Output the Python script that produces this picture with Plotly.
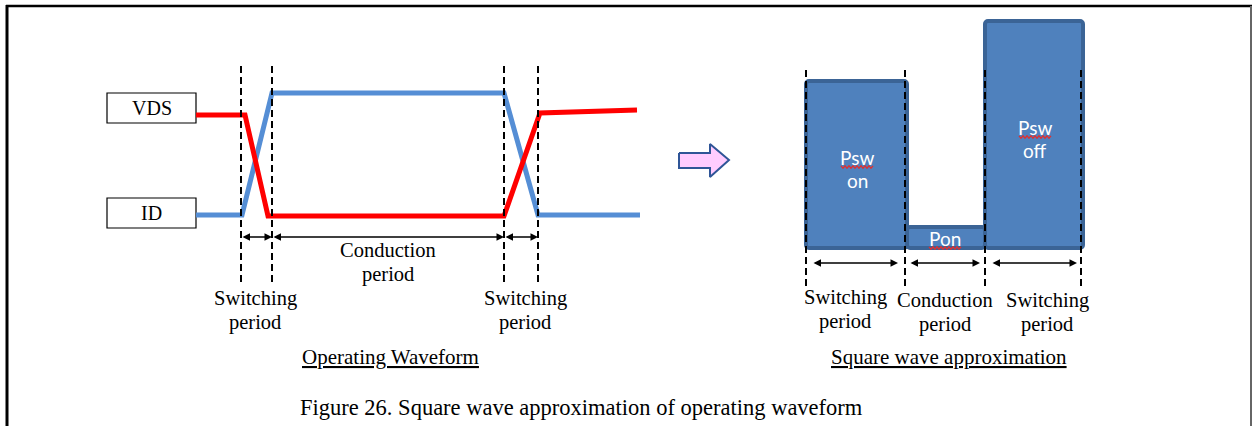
import plotly.graph_objects as go

W, H = 1252, 426
SERIF = "Liberation Serif"
SANS = "Lato"

# ---- Operating waveform (left) ----
id_t = [196, 242, 272, 504, 538, 640]
id_level = [215, 215, 93, 93, 215, 215]
vds_t = [196, 245, 268, 504, 540, 637]
vds_level = [115, 115, 216, 216, 113, 110]
left_marks = [241, 272, 504, 538]
left_periods = [("Switching", "period"), ("Conduction", "period"), ("Switching", "period")]
signal_names = ["VDS", "ID"]

# ---- Square wave approximation (right) ----
bar_left = [806, 907, 985]
bar_right = [907, 985, 1083]
bar_top = [81, 227, 21]
bar_base = 248
bar_labels = [("Psw", "on"), ("Pon", ""), ("Psw", "off")]
right_marks = [806, 905, 985, 1081]
right_periods = [("Switching", "period"), ("Conduction", "period"), ("Switching", "period")]

titles = ["Operating Waveform", "Square wave approximation"]
caption = "Figure 26. Square wave approximation of operating waveform"

BLUE = "#558ED5"
RED = "#FF0000"
BAR_FILL = "#4F81BD"
BAR_EDGE = "#3B6496"

fig = go.Figure()

# signal label boxes
box_y = [(93, 123), (198, 228)]
for name, (y0, y1) in zip(signal_names, box_y):
    fig.add_shape(type="rect", x0=107, x1=196, y0=y0, y1=y1,
                  line=dict(color="black", width=1.2), fillcolor="white", layer="below")
    fig.add_annotation(x=151.5, y=(y0 + y1) / 2, text=name, showarrow=False,
                       font=dict(family=SERIF, size=20, color="black"))

# waveforms
fig.add_trace(go.Scatter(x=id_t, y=id_level, mode="lines",
                         line=dict(color=BLUE, width=5), hoverinfo="skip"))
fig.add_trace(go.Scatter(x=vds_t, y=vds_level, mode="lines",
                         line=dict(color=RED, width=5), hoverinfo="skip"))

# bars
centers = [(a + b) / 2 for a, b in zip(bar_left, bar_right)]
widths = [b - a for a, b in zip(bar_left, bar_right)]
heights = [t - bar_base for t in bar_top]
fig.add_trace(go.Bar(x=centers, y=heights, base=bar_base, width=widths,
                     marker=dict(color=BAR_FILL, line=dict(color=BAR_EDGE, width=4),
                                 cornerradius=3),
                     hoverinfo="skip"))

# dashed markers
for xs, y0, y1 in [(left_marks, 66, 284), (right_marks, 70, 287)]:
    for xv in xs:
        fig.add_trace(go.Scatter(x=[xv, xv], y=[y0, y1], mode="lines",
                                 line=dict(color="black", width=2, dash="7px,4px"),
                                 hoverinfo="skip"))

# double arrows
def dbl_arrow(x0, x1, y):
    fig.add_annotation(x=x1, y=y, ax=x0, ay=y, xref="x", yref="y", axref="x", ayref="y",
                       text="", showarrow=True, arrowhead=2, arrowside="end+start",
                       arrowsize=1.0, arrowwidth=1.5, arrowcolor="black")

for a, b in zip(left_marks[:-1], left_marks[1:]):
    dbl_arrow(a, b, 237)
right_arrow_spans = [(812, 898), (909, 980), (991, 1077)]
for a, b in right_arrow_spans:
    dbl_arrow(a, b, 263)

def two_line(lines, xv, y_first, gap, font):
    for k, line in enumerate(lines):
        if line:
            fig.add_annotation(x=xv, y=y_first + k * gap, text=line, showarrow=False, font=font)

serif_font = dict(family=SERIF, size=20.5, color="black")
# period labels
left_label_pos = [(255, 298), (388, 250), (525, 298)]
for lines, (xv, yv) in zip(left_periods, left_label_pos):
    two_line(lines, xv, yv, 24, serif_font)
right_label_pos = [(845, 297), (945, 300), (1047, 300)]
for lines, (xv, yv) in zip(right_periods, right_label_pos):
    two_line(lines, xv, yv, 24, serif_font)

# bar labels
bar_label_pos = [(857, 157), (945, 238), (1035, 127)]
for lines, (xv, yv) in zip(bar_labels, bar_label_pos):
    two_line(lines, xv, yv, 23, dict(family=SANS, size=19, color="white"))

# spell-check squiggles under "Psw" / "Pon"
squig = [(841, 873, 167), (1019, 1051, 137), (929, 962, 248)]
for a, b, yv in squig:
    xs = list(range(a, b + 1, 2))
    ys = [yv + (1.2 if i % 2 else -1.2) for i in range(len(xs))]
    fig.add_trace(go.Scatter(x=xs, y=ys, mode="lines",
                             line=dict(color="#E03030", width=1.3), hoverinfo="skip"))

# right-pointing block arrow
arrow_x = [679, 710, 710, 729, 710, 710, 679, 679]
arrow_y = [153, 153, 144, 160, 177, 168, 168, 153]
fig.add_trace(go.Scatter(x=arrow_x, y=arrow_y, mode="lines", fill="toself",
                         fillcolor="#FFCCFF", line=dict(color="#2F5597", width=2),
                         hoverinfo="skip"))

# titles (underlined)
for txt, xv in zip(titles, [390, 949]):
    fig.add_annotation(x=xv, y=357, text="<u>" + txt + "</u>", showarrow=False,
                       font=dict(family=SERIF, size=21, color="black"))

fig.add_annotation(x=581, y=407, text=caption, showarrow=False,
                   font=dict(family=SERIF, size=22.5, color="black"))

# outer frame
fig.add_shape(type="line", x0=7, x1=7, y0=5, y1=426, line=dict(color="black", width=3))
fig.add_shape(type="line", x0=6, x1=1252, y0=6, y1=6, line=dict(color="black", width=2.5))
fig.add_shape(type="line", x0=1251, x1=1251, y0=6, y1=426, line=dict(color="#666666", width=2))

fig.update_layout(
    width=W, height=H, autosize=False,
    margin=dict(l=0, r=0, t=0, b=0),
    paper_bgcolor="white", plot_bgcolor="white",
    showlegend=False, bargap=0,
    xaxis=dict(range=[0, W], visible=False, fixedrange=True),
    yaxis=dict(range=[H, 0], visible=False, fixedrange=True),
)

fig.write_html("out.html", config={"displayModeBar": False, "staticPlot": True},
               post_script="document.body.style.margin='0';document.body.style.overflow='hidden';")
